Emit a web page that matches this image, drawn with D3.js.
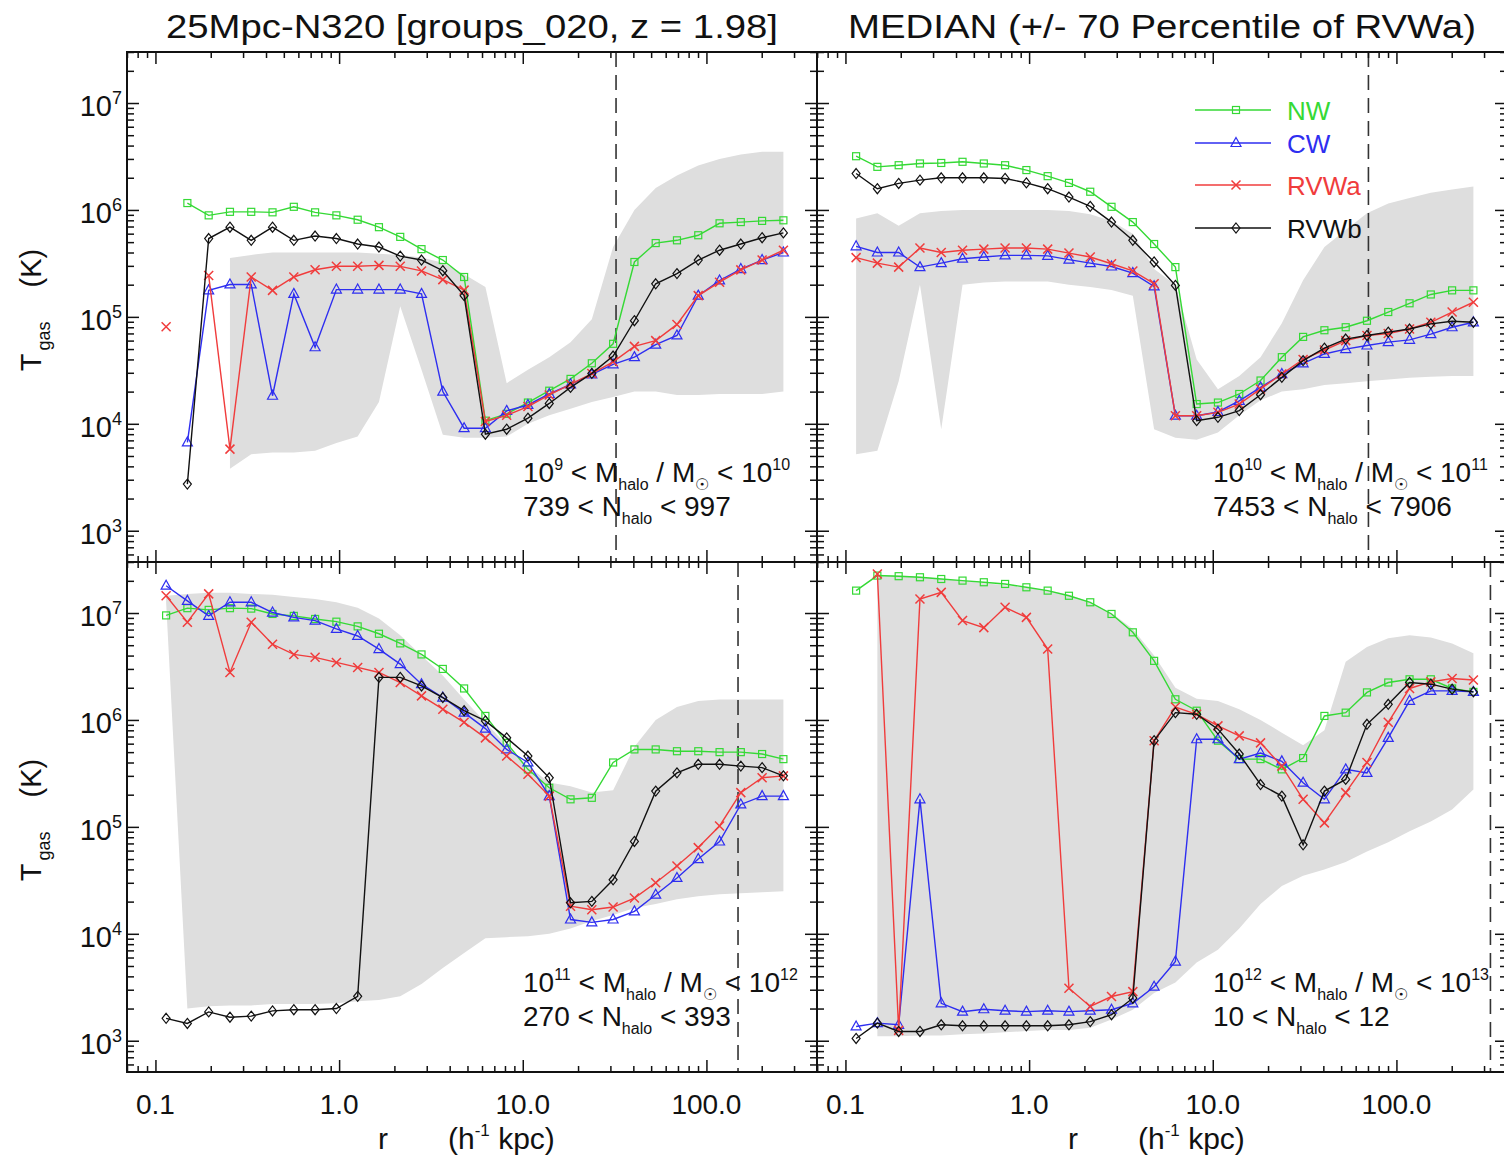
<!DOCTYPE html>
<html><head><meta charset="utf-8">
<script src="https://cdn.jsdelivr.net/npm/d3@7"></script>
<style>
body{margin:0;background:#fff;}
svg text{font-family:"Liberation Sans", Arial, Helvetica, sans-serif; fill:#111;}
</style></head>
<body><svg id="c" width="1504" height="1158"></svg>
<script>
// radial bin centres (h^-1 kpc)
const radius = [0.1143,0.1492,0.1949,0.2545,0.3323,0.4340,0.5667,0.7400,0.9665,1.262,1.648,2.152,2.810,3.670,4.793,6.259,8.173,10.67,13.94,18.20,23.77,31.04,40.54,52.94,69.12,90.26,117.9,153.9,201.0,262.5];

const seriesNames = ["NW","CW","RVWa","RVWb"];
const seriesColors = ["#35d935","#2e2ef0","#f03c3c","#111111"];

// ---- top-left: 1e9 < M < 1e10
const tlNW   = [null,1.16e6,8.9e5,9.6e5,9.6e5,9.5e5,1.07e6,9.5e5,8.9e5,8.1e5,6.9e5,5.6e5,4.3e5,3.4e5,2.36e5,1.07e4,1.24e4,1.58e4,2.04e4,2.63e4,3.68e4,5.6e4,3.26e5,4.9e5,5.2e5,5.8e5,7.5e5,7.7e5,7.9e5,8.0e5];
const tlCW   = [null,6.7e3,1.77e5,2.01e5,2.01e5,1.83e4,1.64e5,5.2e4,1.8e5,1.8e5,1.8e5,1.8e5,1.64e5,2.0e4,9.1e3,9.1e3,1.32e4,1.5e4,1.9e4,2.34e4,2.9e4,3.6e4,4.2e4,5.5e4,6.7e4,1.58e5,2.19e5,2.8e5,3.4e5,4.0e5];
const tlRVWa = [8.1e4,null,2.44e5,5.8e3,2.36e5,1.77e5,2.36e5,2.76e5,2.97e5,2.97e5,3.03e5,2.97e5,2.69e5,2.23e5,1.78e5,1.05e4,1.2e4,1.45e4,1.86e4,2.34e4,2.95e4,3.8e4,5.3e4,6.0e4,8.5e4,1.58e5,2.11e5,2.75e5,3.4e5,4.2e5];
const tlRVWb = [null,2.73e3,5.4e5,6.9e5,5.2e5,6.9e5,5.2e5,5.7e5,5.4e5,4.8e5,4.5e5,3.7e5,3.4e5,2.7e5,1.58e5,8.0e3,8.9e3,1.13e4,1.55e4,2.19e4,2.96e4,4.3e4,9.2e4,2.04e5,2.54e5,3.4e5,4.2e5,4.8e5,5.5e5,6.1e5];
const tlLo   = [null,null,null,3.8e3,5.2e3,5.4e3,5.4e3,5.6e3,6.6e3,7.6e3,1.6e4,1.26e5,3.2e4,7.9e3,7.4e3,7.4e3,7.6e3,1.0e4,1.2e4,1.38e4,1.6e4,1.78e4,2.0e4,2.0e4,1.86e4,1.86e4,1.9e4,1.9e4,1.9e4,2.0e4];
const tlHi   = [null,null,null,3.55e5,3.8e5,4.0e5,4.0e5,4.0e5,4.0e5,4.0e5,3.9e5,3.8e5,3.6e5,3.2e5,2.5e5,1.9e5,2.4e4,3.2e4,4.2e4,5.8e4,9.5e4,4.5e5,1.0e6,1.6e6,2.1e6,2.6e6,3.0e6,3.3e6,3.5e6,3.5e6];

// ---- top-right: 1e10 < M < 1e11
const trNW   = [3.18e6,2.53e6,2.62e6,2.72e6,2.75e6,2.82e6,2.72e6,2.62e6,2.36e6,2.07e6,1.79e6,1.48e6,1.07e6,7.7e5,4.8e5,2.92e5,1.53e4,1.58e4,1.9e4,2.54e4,4.2e4,6.5e4,7.5e4,8.0e4,9.2e4,1.11e5,1.34e5,1.62e5,1.77e5,1.77e5];
const trCW   = [4.57e5,4.0e5,4.0e5,2.92e5,3.18e5,3.5e5,3.63e5,3.76e5,3.76e5,3.72e5,3.43e5,3.18e5,2.96e5,2.57e5,1.93e5,1.19e4,1.19e4,1.29e4,1.64e4,2.19e4,2.92e4,3.68e4,4.5e4,5.0e4,5.4e4,5.8e4,6.1e4,6.9e4,8.0e4,8.9e4];
const trRVWa = [3.58e5,3.18e5,2.92e5,4.4e5,4.0e5,4.2e5,4.3e5,4.4e5,4.4e5,4.3e5,3.95e5,3.63e5,3.14e5,2.69e5,2.04e5,1.19e4,1.19e4,1.28e4,1.53e4,2.12e4,2.92e4,4.0e4,4.9e4,6.0e4,6.7e4,7.0e4,7.7e4,8.9e4,1.11e5,1.37e5];
const trRVWb = [2.19e6,1.58e6,1.77e6,1.9e6,2.0e6,2.0e6,2.0e6,1.97e6,1.79e6,1.58e6,1.32e6,1.08e6,7.7e5,5.2e5,3.26e5,1.97e5,1.07e4,1.15e4,1.33e4,1.87e4,2.72e4,3.9e4,5.1e4,6.2e4,6.7e4,7.2e4,7.7e4,8.6e4,9.1e4,8.9e4];
const trLo   = [5.2e3,5.6e3,2.5e4,2.0e5,8.9e3,2.0e5,2.1e5,2.14e5,2.14e5,2.14e5,2.0e5,1.9e5,1.78e5,1.58e5,8.9e3,7.4e3,7.1e3,8.3e3,1.2e4,1.66e4,2.0e4,2.1e4,2.3e4,2.4e4,2.5e4,2.6e4,2.7e4,2.75e4,2.8e4,2.8e4];
const trHi   = [8.3e5,9.3e5,7.1e5,9.3e5,9.8e5,1.0e6,1.0e6,1.0e6,1.0e6,1.0e6,9.8e5,9.1e5,7.9e5,6.0e5,2.8e5,2.0e5,4.0e4,2.1e4,2.8e4,4.2e4,8.7e4,2.2e5,4.5e5,6.5e5,9.3e5,1.15e6,1.29e6,1.45e6,1.55e6,1.66e6];

// ---- bottom-left: 1e11 < M < 1e12
const blNW   = [9.5e6,1.11e7,1.07e7,1.11e7,1.1e7,9.8e6,9.4e6,8.8e6,8.3e6,7.5e6,6.4e6,5.2e6,4.1e6,3.0e6,1.97e6,1.09e6,6.1e5,3.45e5,2.32e5,1.81e5,1.87e5,4.0e5,5.3e5,5.3e5,5.1e5,5.1e5,5.0e5,5.0e5,4.8e5,4.3e5];
const blCW   = [1.8e7,1.3e7,9.4e6,1.26e7,1.26e7,1.01e7,9.1e6,8.5e6,7.1e6,6.1e6,4.6e6,3.33e6,2.16e6,1.62e6,1.17e6,8.3e5,5.3e5,4.0e5,1.94e5,1.36e4,1.28e4,1.36e4,1.62e4,2.32e4,3.33e4,5.0e4,7.3e4,1.62e5,1.94e5,1.94e5];
const blRVWa = [1.45e7,8.2e6,1.51e7,2.78e6,8.2e6,5.1e6,4.1e6,3.85e6,3.45e6,3.1e6,2.78e6,2.24e6,1.68e6,1.26e6,9.5e5,6.8e5,4.6e5,3.1e5,1.94e5,1.81e4,1.68e4,1.78e4,2.16e4,3.0e4,4.3e4,6.4e4,1.02e5,2.09e5,2.88e5,3.0e5];
const blRVWb = [1.62e3,1.45e3,1.86e3,1.66e3,1.70e3,1.9e3,1.95e3,1.95e3,2.0e3,2.6e3,2.5e6,2.5e6,2.08e6,1.62e6,1.22e6,9.8e5,6.8e5,4.6e5,2.88e5,1.95e4,2.01e4,3.2e4,7.3e4,2.16e5,3.2e5,3.85e5,3.85e5,3.7e5,3.58e5,3.0e5];
const blLo   = [1.26e7,2.0e3,2.1e3,2.14e3,2.14e3,2.2e3,2.2e3,2.2e3,2.24e3,2.34e3,2.4e3,2.6e3,3.4e3,4.8e3,6.6e3,9.1e3,9.3e3,9.5e3,1.0e4,1.12e4,1.32e4,1.5e4,1.74e4,1.9e4,2.1e4,2.24e4,2.34e4,2.4e4,2.45e4,2.5e4];
const blHi   = [1.45e7,1.51e7,1.55e7,1.55e7,1.51e7,1.48e7,1.41e7,1.35e7,1.26e7,1.12e7,8.9e6,6.2e6,4.0e6,2.6e6,1.55e6,9.5e5,5.8e5,3.7e5,2.6e5,2.4e5,2.1e5,2.2e5,5.6e5,1.0e6,1.32e6,1.5e6,1.55e6,1.55e6,1.55e6,1.55e6];

// ---- bottom-right: 1e12 < M < 1e13
const brNW   = [1.62e7,2.24e7,2.21e7,2.16e7,2.08e7,2.01e7,1.94e7,1.87e7,1.74e7,1.62e7,1.45e7,1.26e7,9.8e6,6.6e6,3.57e6,1.56e6,1.22e6,6.4e5,4.3e5,4.3e5,3.45e5,4.4e5,1.09e6,1.17e6,1.81e6,2.24e6,2.4e6,2.4e6,1.97e6,1.83e6];
const brCW   = [1.36e3,1.46e3,1.41e3,1.81e5,2.24e3,1.87e3,1.97e3,1.91e3,1.87e3,1.91e3,1.87e3,1.91e3,1.95e3,2.24e3,3.2e3,5.5e3,6.6e5,6.6e5,4.3e5,4.9e5,4.1e5,2.59e5,1.81e5,3.45e5,3.2e5,6.8e5,1.51e6,1.87e6,1.87e6,1.83e6];
const brRVWa = [null,2.32e7,1.25e3,1.35e7,1.56e7,8.5e6,7.3e6,1.13e7,9.1e6,4.6e6,3.1e3,2.09e3,2.59e3,2.88e3,6.4e5,1.32e6,1.13e6,8.8e5,7.1e5,6.1e5,3.7e5,1.81e5,1.09e5,2.09e5,4.0e5,9.5e5,1.97e6,2.27e6,2.44e6,2.36e6];
const brRVWb = [1.05e3,1.46e3,1.22e3,1.22e3,1.41e3,1.38e3,1.38e3,1.38e3,1.38e3,1.38e3,1.41e3,1.51e3,1.75e3,2.5e3,6.4e5,1.17e6,1.13e6,8.2e5,4.8e5,2.49e5,1.94e5,6.8e4,2.16e5,2.78e5,9.1e5,1.4e6,2.24e6,2.16e6,1.94e6,1.83e6];
const brLo   = [null,1.1e3,1.1e3,1.12e3,1.12e3,1.15e3,1.17e3,1.2e3,1.23e3,1.26e3,1.26e3,1.32e3,1.58e3,1.95e3,2.8e3,3.5e3,5.4e3,7.1e3,1.12e4,1.9e4,2.8e4,3.5e4,4.0e4,4.7e4,5.9e4,7.2e4,9.1e4,1.12e5,1.45e5,2.24e5];
const brHi   = [null,2.24e7,2.24e7,2.19e7,2.09e7,2.0e7,1.9e7,1.82e7,1.74e7,1.62e7,1.48e7,1.26e7,1.0e7,7.1e6,4.0e6,2.0e6,1.58e6,1.5e6,1.26e6,1.0e6,7.6e5,5.8e5,8.0e5,3.5e6,4.8e6,5.8e6,6.2e6,5.9e6,5.2e6,4.2e6];

// virial radii (dashed lines)
const virial = [32.2, 70.4, 148.6, 325];
// annotation labels
const massLo = ["9","10","11","12"], massHi = ["10","11","12","13"];
const nLo = ["739","7453","270","10"], nHi = ["997","7906","393","12"];
const titles = ["25Mpc-N320 [groups_020, z = 1.98]", "MEDIAN (+/- 70 Percentile of RVWa)"];
const xTickLabels = ["0.1","1.0","10.0","100.0"];
const xMajor = [0.1,1,10,100];
const yMajor = [1e3,1e4,1e5,1e6,1e7];
const yExp = ["3","4","5","6","7"];

const svg = d3.select("#c");
const W = 690, H = 510, colX = [127, 817], rowY = [52, 562];
const x = d3.scaleLog().domain([0.07, 400]).range([0, W]);
const y = d3.scaleLog().domain([510, 3e7]).range([H, 0]);

const xMinor = [], yMinor = [];
[0.01,0.1,1,10,100].forEach(d => { for (let m = 2; m <= 9; m++) { const v = +(m*d).toPrecision(6); if (v > 0.0699 && v < 400.1) xMinor.push(v); } });
[100,1e3,1e4,1e5,1e6,1e7].forEach(d => { for (let m = 2; m <= 9; m++) { const v = m*d; if (v > 509 && v < 3.01e7) yMinor.push(v); } });

const panels = [
  {c:0, r:0, lo:tlLo, hi:tlHi, s:[tlNW,tlCW,tlRVWa,tlRVWb]},
  {c:1, r:0, lo:trLo, hi:trHi, s:[trNW,trCW,trRVWa,trRVWb]},
  {c:0, r:1, lo:blLo, hi:blHi, s:[blNW,blCW,blRVWa,blRVWb]},
  {c:1, r:1, lo:brLo, hi:brHi, s:[brNW,brCW,brRVWa,brRVWb]},
];

function marker(g, type, color){
  if (type === 0) g.append("rect").attr("x",-3.5).attr("y",-3.5).attr("width",7).attr("height",7).attr("fill","none").attr("stroke",color).attr("stroke-width",1.2);
  else if (type === 1) g.append("path").attr("d","M0,-5.5L5,3.5L-5,3.5Z").attr("fill","none").attr("stroke",color).attr("stroke-width",1.2);
  else if (type === 2) g.append("path").attr("d","M-4.5,-4.5L4.5,4.5M-4.5,4.5L4.5,-4.5").attr("fill","none").attr("stroke",color).attr("stroke-width",1.5);
  else g.append("path").attr("d","M0,-5L4,0L0,5L-4,0Z").attr("fill","none").attr("stroke",color).attr("stroke-width",1.2);
}

function rich(sel, parts, size, small){
  let cur = 0;
  parts.forEach(([t,k,dx]) => {
    const target = k === "sup" ? -0.42*size : (k === "sub" ? 0.3*size : 0);
    const ts = sel.append("tspan").attr("dy", target - cur).attr("font-size", k === "n" ? size : small).text(t);
    if (dx) ts.attr("dx", dx);
    cur = target;
  });
}

const defs = svg.append("defs");
panels.forEach((p, pi) => {
  const g = svg.append("g").attr("transform", `translate(${colX[p.c]},${rowY[p.r]})`);
  defs.append("clipPath").attr("id","clip"+pi).append("rect").attr("width",W).attr("height",H);
  const inner = g.append("g").attr("clip-path",`url(#clip${pi})`);
  // band
  const area = d3.area().defined(i => p.lo[i] != null && p.hi[i] != null)
    .x(i => x(radius[i])).y0(i => y(p.lo[i])).y1(i => y(p.hi[i]));
  inner.append("path").attr("d", area(d3.range(radius.length))).attr("fill","#dedede");
  // virial dashed line
  inner.append("line").attr("x1",x(virial[pi])).attr("x2",x(virial[pi])).attr("y1",0).attr("y2",H)
    .attr("stroke","#333").attr("stroke-width",1.6).attr("stroke-dasharray","15,8");
  // series
  p.s.forEach((vals, si) => {
    const line = d3.line().defined(i => vals[i] != null).x(i => x(radius[i])).y(i => y(vals[i]));
    inner.append("path").attr("d", line(d3.range(radius.length))).attr("fill","none")
      .attr("stroke", seriesColors[si]).attr("stroke-width",1.4);
    d3.range(radius.length).filter(i => vals[i] != null).forEach(i => {
      const mg = inner.append("g").attr("transform",`translate(${x(radius[i])},${y(vals[i])})`);
      marker(mg, si, seriesColors[si]);
    });
  });
  // axes ticks (inward, all four sides)
  const tk = (sel) => { sel.select(".domain").remove(); sel.selectAll("line").attr("stroke","#111").attr("stroke-width",1.5); sel.selectAll("text").remove(); };
  g.append("g").attr("transform",`translate(0,${H})`).call(d3.axisBottom(x).tickValues(xMajor).tickSize(-12).tickFormat("")).call(tk);
  g.append("g").attr("transform",`translate(0,${H})`).call(d3.axisBottom(x).tickValues(xMinor).tickSize(-6).tickFormat("")).call(tk);
  g.append("g").call(d3.axisTop(x).tickValues(xMajor).tickSize(-12).tickFormat("")).call(tk);
  g.append("g").call(d3.axisTop(x).tickValues(xMinor).tickSize(-6).tickFormat("")).call(tk);
  g.append("g").call(d3.axisLeft(y).tickValues(yMajor).tickSize(-12).tickFormat("")).call(tk);
  g.append("g").call(d3.axisLeft(y).tickValues(yMinor).tickSize(-7).tickFormat("")).call(tk);
  g.append("g").attr("transform",`translate(${W},0)`).call(d3.axisRight(y).tickValues(yMajor).tickSize(-12).tickFormat("")).call(tk);
  g.append("g").attr("transform",`translate(${W},0)`).call(d3.axisRight(y).tickValues(yMinor).tickSize(-7).tickFormat("")).call(tk);
  g.append("rect").attr("width",W).attr("height",H).attr("fill","none").attr("stroke","#111").attr("stroke-width",2);

  // annotation
  const a1 = g.append("text").attr("x",396).attr("y",430);
  rich(a1, [["10","n"],[massLo[pi],"sup"],[" < M","n"],["halo","sub"],[" / M","n"],["\u2609","sub"],[" < 10","n"],[massHi[pi],"sup"]], 28, 16);
  const a2 = g.append("text").attr("x",396).attr("y",464);
  rich(a2, [[nLo[pi]+" < N","n"],["halo","sub"],[" < "+nHi[pi],"n"]], 28, 16);

  // y tick labels (left column)
  if (p.c === 0) {
    yMajor.forEach((v, i) => {
      const t = g.append("text").attr("x",-5).attr("y",y(v)+13).attr("text-anchor","end");
      rich(t, [["10","n"],[yExp[i],"sup"]], 29, 18);
    });
    const yt = svg.append("text").attr("transform",`translate(41,${rowY[p.r]+258}) rotate(-90)`).attr("text-anchor","middle");
    rich(yt, [["T","n"],["gas","sub",3],["(K)","n",34]], 29, 18);
  }
  // x tick labels (bottom row)
  if (p.r === 1) {
    xMajor.forEach((v, i) => {
      g.append("text").attr("x",x(v)).attr("y",H+42).attr("text-anchor","middle").attr("font-size",28).text(xTickLabels[i]);
    });
    svg.append("text").attr("x",colX[p.c]+256).attr("y",1149).attr("text-anchor","middle").attr("font-size",30).text("r");
    const xt = svg.append("text").attr("x",colX[p.c]+321).attr("y",1149);
    rich(xt, [["(h","n"],["-1","sup"],[" kpc)","n"]], 30, 17);
  }
  // titles
  if (p.r === 0) {
    svg.append("text").attr("x",colX[p.c]+W/2).attr("y",38).attr("text-anchor","middle")
      .attr("font-size",33).attr("textLength", p.c === 0 ? 612 : 628).attr("lengthAdjust","spacingAndGlyphs").text(titles[p.c]);
  }
  // legend
  if (pi === 1) {
    const ly = [110,143,185,228];
    seriesNames.forEach((n, si) => {
      const lg = svg.append("g");
      lg.append("line").attr("x1",1195).attr("x2",1271).attr("y1",ly[si]).attr("y2",ly[si]).attr("stroke",seriesColors[si]).attr("stroke-width",1.4);
      marker(lg.append("g").attr("transform",`translate(1236,${ly[si]})`), si, seriesColors[si]);
      lg.append("text").attr("x",1287).attr("y",ly[si]+10).attr("font-size",26).style("fill",seriesColors[si]).text(n);
    });
  }
});
</script>
</body></html>
